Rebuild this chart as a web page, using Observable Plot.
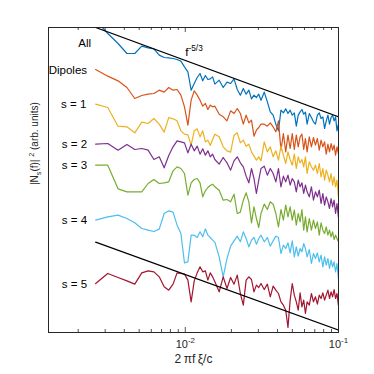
<!DOCTYPE html>
<html><head><meta charset="utf-8">
<script src="https://cdn.jsdelivr.net/npm/d3@7"></script>
<script src="https://cdn.jsdelivr.net/npm/@observablehq/plot@0.6"></script>
<style>
body{margin:0;background:#fff;}
svg{font-family:"Liberation Sans",Arial,Helvetica,sans-serif;}
</style>
</head><body><div id="chart"></div>
<script>
// frequency grid (2πfξ/c)
const freq = [0.0026,0.00312,0.00364,0.00416,0.00468,0.0052,0.00572,0.00624,0.00676,0.00728,0.0078,0.00832,0.00884,0.00936,0.00988,0.0104,0.01092,0.01144,0.01196,0.01248,0.013,0.01352,0.01404,0.01456,0.01508,0.0156,
0.01664,0.01768,0.01872,0.01976,0.0208,0.02184,0.02288,0.02392,0.02496,0.026,0.02704,0.02808,0.02912,0.03016,0.0312,
0.03276,0.03432,0.03588,0.03744,0.039,0.04056,0.04212,0.04368,0.04524,0.0468,0.04836,0.04992,0.05148,0.05304,0.0546,0.05616,0.05772,0.05928,0.06084,0.0624,
0.06448,0.06656,0.06864,0.07072,0.0728,0.07488,0.07696,0.07904,0.08112,0.0832,0.08528,0.08736,0.08944,0.09152,0.0936,0.09568,0.09776,0.09984];

// spectra in dB (arbitrary reference), offset per series as in the figure
const levelAll = [93.7,89.7,86.7,83.7,83.7,85.9,85.4,85.1,83.2,82.5,82.4,82.2,81.9,81.4,79.7,78.2,72.7,74.7,76.5,77.7,75.5,77.1,75.9,76.1,76.7,74.5,
75.7,73.5,75.1,74.7,76.1,72.9,71.2,73.2,71.5,72.7,70.1,71.2,70.5,71.5,69.7,
72.1,69.2,66.2,65.2,62.5,60.5,66.7,65.9,67.1,65.7,66.7,65.2,65.9,61.9,65.2,66.2,66.9,65.5,66.1,62.5,
65.7,64.5,63.2,62.5,65.2,65.9,64.2,64.7,61.2,63.5,65.2,62.5,64.5,65.2,63.5,64.7,60.5,62.5];
const levelDipoles = [78.9,76.9,75.5,73.5,70.2,71.1,71.5,71.7,72.7,72.1,73.5,72.7,72.9,71.2,67.7,62.2,69.7,72.5,71.2,69.7,67.9,68.7,66.9,68.2,67.7,67.9,
65.5,64.7,63.5,66.5,65.7,67.2,65.7,62.5,65.2,62.9,63.7,58.9,60.7,61.5,62.5,
62.5,61.9,62.9,61.7,60.2,63.5,54.7,59.7,54.2,59.2,55.2,59.7,54.9,59.2,55.7,58.7,59.5,54.9,58.2,54.2,
58.7,55.7,58.5,56.2,58.2,54.7,57.7,55.7,57.2,53.5,56.5,54.2,56.7,54.7,56.2,53.2,55.7,53.7];
const levelS1 = [68.5,67.5,61.9,61.7,59.9,63.1,62.7,64.2,62.5,60.1,64.5,64.1,63.5,60.5,59.5,59.3,56.2,60.5,61.1,58.7,60.5,57.2,57.7,56.1,57.9,59.5,
58.7,55.7,54.5,54.1,59.2,59.9,56.9,57.7,55.9,56.5,54.2,52.9,51.7,52.7,51.5,
57.2,54.2,55.7,52.7,54.5,51.7,55.9,53.2,50.7,54.2,51.9,50.2,53.5,49.2,52.7,50.9,51.9,49.7,52.7,47.7,
51.2,49.7,48.7,50.2,47.7,50.7,46.7,49.2,45.7,48.7,47.2,45.2,47.7,44.2,46.7,43.7,45.7,40.7];
const levelS2 = [56.5,56.7,54.7,56.4,54.9,55.2,54.7,51.9,52.7,49.4,53.1,55.7,57.5,57.2,56.9,53.9,56.5,54.5,55.9,53.5,55.1,53.2,54.5,52.7,53.5,51.9,
50.5,52.5,50.9,48.7,51.5,52.7,50.9,49.7,46.9,44.9,49.2,46.2,41.7,45.7,49.2,
49.9,47.2,49.2,47.7,45.2,49.2,43.7,46.9,45.2,47.2,44.2,46.2,45.2,42.2,45.7,43.7,44.9,41.7,44.2,42.2,
40.7,43.7,39.7,42.2,40.7,42.7,38.7,41.7,38.2,40.7,39.2,37.2,40.2,37.7,39.7,35.7,38.7,34.7];
const levelS3 = [50.2,50.2,43.1,42.2,42.2,42.2,44.7,45.9,44.7,44.9,45.2,48.5,49.7,49.2,47.7,41.2,44.9,45.9,46.2,44.9,40.7,42.5,43.5,44.1,44.5,43.7,
42.7,39.7,39.9,39.2,41.5,35.7,36.1,39.7,41.9,39.2,32.9,37.7,34.2,31.5,35.7,
38.5,36.9,39.2,38.5,35.7,31.7,36.9,33.7,38.2,34.7,37.7,33.7,36.7,32.2,35.7,33.2,36.9,30.7,34.7,30.2,
34.2,30.7,33.7,31.2,33.2,29.2,32.9,30.7,29.7,31.7,29.2,30.7,28.7,30.2,27.9,29.2,28.2,27.2];
const levelS4 = [33.7,34.7,35.2,34.2,32.9,31.2,30.7,30.3,31.0,35.7,36.5,36.1,32.2,29.7,20.9,21.2,29.2,29.2,28.5,30.2,28.7,31.1,29.2,28.5,27.7,27.1,
22.7,16.7,22.2,25.9,27.5,28.9,27.2,30.2,28.2,25.7,27.7,28.5,26.5,28.2,29.2,
27.2,28.5,25.9,27.5,28.9,28.5,23.7,26.2,25.2,26.9,23.9,27.5,22.7,25.7,22.9,25.2,24.2,26.7,25.2,22.7,
24.9,20.7,23.7,22.2,23.9,21.2,23.2,19.7,22.7,20.2,22.2,19.2,21.7,19.7,21.2,18.2,20.7,16.2];
const levelS5 = [14.7,17.7,16.5,15.5,14.5,17.9,18.5,18.2,16.7,13.7,12.7,14.5,17.9,17.7,17.5,15.7,9.2,15.5,17.9,19.7,18.2,18.5,15.7,17.9,16.7,15.2,
12.2,16.7,13.2,16.5,14.5,17.2,11.7,8.2,15.7,16.7,15.9,12.2,14.2,13.5,14.7,
12.9,14.5,10.7,13.9,12.7,11.7,9.2,8.2,6.7,1.5,9.7,14.7,11.2,9.2,6.7,11.9,7.7,9.7,5.7,9.2,
8.2,11.7,9.2,10.7,8.5,11.2,10.2,11.9,9.7,11.2,12.7,10.2,12.2,10.7,12.9,10.2,11.7,8.2];

const seriesNames = ["All", "Dipoles", "s = 1", "s = 2", "s = 3", "s = 4", "s = 5"];
const seriesLevels = [levelAll, levelDipoles, levelS1, levelS2, levelS3, levelS4, levelS5];
const seriesColors = ["#0072BD", "#D95319", "#EDB120", "#7E2F8E", "#77AC30", "#4DBEEE", "#A2142F"];

// series labels (left of each curve)
const labelFreq = [0.00243, 0.002285, 0.00226, 0.002285, 0.002285, 0.002285, 0.002285];
const labelLevel = [86.9, 78.7, 68.5, 56.4, 50.1, 33.6, 14.6];

// f^-5/3 reference lines
const refFreq = [0.0026, 0.1];
const refUpper = [91.5, 64.7];
const refLower = [27.1, 0.7];
const refText = "f^{-5/3}";
const refTextFreq = 0.0100;
const refTextLevel = 84.2;

// axis
const xMajor = [0.01, 0.1];
const xMajorLabels = ["10^{-2}", "10^{-1}"];
const xMinor = [0.002,0.003,0.004,0.005,0.006,0.007,0.008,0.009,0.02,0.03,0.04,0.05,0.06,0.07,0.08,0.09];
const xLabel = "2\u2009\u03C0f\u2009\u03BE/c";
const yLabel = "|N_{s}(f)| ^{2} (arb. units)";
const yTopDb = 91.5;

const P = db => 10 ** (db / 10);

const rows = [];
seriesLevels.forEach((lv, i) => lv.forEach((v, j) => rows.push({series: seriesNames[i], f: freq[j], p: P(v)})));
const refRows = [];
refFreq.forEach((f, j) => { refRows.push({name: "upper", f, p: P(refUpper[j])}); refRows.push({name: "lower", f, p: P(refLower[j])}); });
const labelRows = seriesNames.map((n, i) => ({text: n, f: labelFreq[i], p: P(labelLevel[i])}));

const ink = "#262626";
const chart = Plot.plot({
  width: 374, height: 374,
  marginLeft: 48, marginRight: 36, marginTop: 27, marginBottom: 42,
  x: {type: "log", domain: [0.00128, 0.1], axis: null},
  y: {type: "log", domain: [1, P(yTopDb)], axis: null},
  color: {domain: seriesNames, range: seriesColors},
  marks: [
    Plot.line(rows, {x: "f", y: "p", z: "series", stroke: "series", strokeWidth: 1.2, clip: true}),
    Plot.line(refRows, {x: "f", y: "p", z: "name", stroke: "#000", strokeWidth: 1.2, clip: true}),
    Plot.frame({stroke: ink, strokeWidth: 1}),
    Plot.tickX(xMinor, {x: d => d, insetTop: 302, stroke: ink, strokeWidth: 0.8}),
    Plot.tickX(xMinor, {x: d => d, insetBottom: 302, stroke: ink, strokeWidth: 0.8}),
    Plot.tickX(xMajor, {x: d => d, insetTop: 300, stroke: ink, strokeWidth: 0.8}),
    Plot.tickX(xMajor, {x: d => d, insetBottom: 300, stroke: ink, strokeWidth: 0.8}),
    Plot.text(xMajor, {x: d => d, text: (d, i) => xMajorLabels[i], frameAnchor: "bottom", dy: 15, fontSize: 11, fill: ink}),
    Plot.text([xLabel], {text: d => d, frameAnchor: "bottom", dy: 30, fontSize: 12, fill: ink}),
    Plot.text([yLabel], {text: d => d, frameAnchor: "left", dx: -14, dy: 5, rotate: -90, fontSize: 10, fill: ink}),
    Plot.text(labelRows, {x: "f", y: "p", text: "text", textAnchor: "end", fontSize: 11.5, fill: "#000"}),
    Plot.text([refText], {x: () => refTextFreq, y: () => P(refTextLevel), text: d => d, textAnchor: "start", fontSize: 11.5, fill: "#000"})
  ]
});
document.getElementById("chart").appendChild(chart);

// render ^{..} and _{..} as real super/subscript tspans
function richify(svg) {
  const NS = "http://www.w3.org/2000/svg";
  svg.querySelectorAll("text").forEach(t => {
    const s = t.textContent;
    if (!/[\^_]\{/.test(s)) return;
    const fs = parseFloat(getComputedStyle(t).fontSize) || 11;
    while (t.firstChild) t.removeChild(t.firstChild);
    const re = /([\^_])\{([^}]*)\}/g;
    let last = 0, m, shift = 0;
    const add = (txt, kind) => {
      if (!txt) return;
      const ts = document.createElementNS(NS, "tspan");
      const target = kind === "^" ? -0.42 * fs : kind === "_" ? 0.3 * fs : 0;
      const dy = target - shift; shift = target;
      if (dy) ts.setAttribute("dy", dy.toFixed(2));
      if (kind) ts.setAttribute("font-size", (fs * 0.72).toFixed(2));
      ts.textContent = txt;
      t.appendChild(ts);
    };
    while ((m = re.exec(s))) { add(s.slice(last, m.index), null); add(m[2], m[1]); last = re.lastIndex; }
    add(s.slice(last), null);
  });
}
richify(chart);
</script>
</body></html>
